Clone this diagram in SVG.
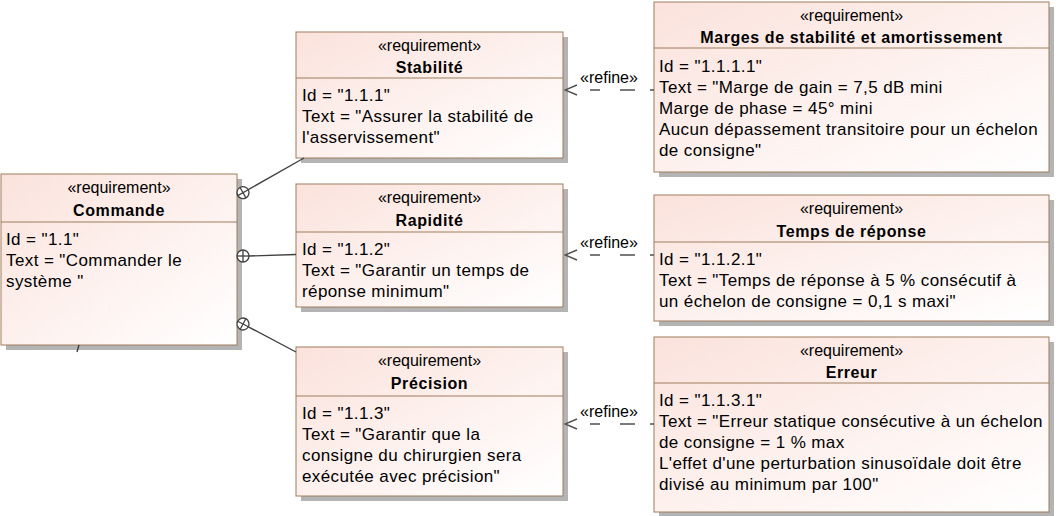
<svg xmlns="http://www.w3.org/2000/svg" width="1058" height="516" viewBox="0 0 1058 516">
<style>
text{font-family:"Liberation Sans",Arial,sans-serif;fill:#000}
.st{font-size:16px;text-anchor:middle}
.nm{font-size:16px;font-weight:bold;text-anchor:middle;letter-spacing:0.6px}
.bd{font-size:17px;letter-spacing:0.4px}
.rf{font-size:16px;text-anchor:middle}
.box{fill:url(#g);stroke:#9e7c5c;stroke-width:1}
.sh{fill:#b4b4b4}
.dv{stroke:#9e7c5c;stroke-width:1}
.ln{stroke:#404040;stroke-width:1.4;fill:none}
.dash{stroke:#505050;stroke-width:1.4;fill:none;stroke-dasharray:4 15 15 20 10 200}
.cs circle{fill:#fff;stroke:#404040;stroke-width:1.3}
.cs line{stroke:#404040;stroke-width:1.3}
</style>
<defs>
<linearGradient id="g" x1="0" y1="0" x2="1" y2="1">
<stop offset="0" stop-color="#fbe2dc"/>
<stop offset="1" stop-color="#ffffff"/>
</linearGradient>
<marker id="open" viewBox="0 0 14 12" refX="13" refY="6" markerWidth="14" markerHeight="12" markerUnits="userSpaceOnUse" orient="auto">
<path d="M1,1 L13,6 L1,11" fill="none" stroke="#505050" stroke-width="1.4"/>
</marker>
</defs>
<rect width="1058" height="516" fill="#fff"/>

<g id="commande">
<rect class="sh" x="6" y="179" width="236" height="171"/>
<rect class="box" x="1" y="174" width="236" height="171"/>
<line class="dv" x1="1" y1="222" x2="237" y2="222"/>
<text class="st" x="119" y="193">«requirement»</text>
<text class="nm" x="119" y="216">Commande</text>
<text class="bd" x="6" y="245">Id = "1.1"</text>
<text class="bd" x="6" y="266">Text = "Commander le</text>
<text class="bd" x="6" y="287">système "</text>
</g>

<g id="stabilite">
<rect class="sh" x="301" y="37" width="267" height="126"/>
<rect class="box" x="296" y="32" width="267" height="126"/>
<line class="dv" x1="296" y1="78" x2="563" y2="78"/>
<text class="st" x="429.5" y="51">«requirement»</text>
<text class="nm" x="429.5" y="73">Stabilité</text>
<text class="bd" x="302" y="101">Id = "1.1.1"</text>
<text class="bd" x="302" y="122">Text = "Assurer la stabilité de</text>
<text class="bd" x="302" y="143">l'asservissement"</text>
</g>

<g id="rapidite">
<rect class="sh" x="301" y="189" width="267" height="123"/>
<rect class="box" x="296" y="184" width="267" height="123"/>
<line class="dv" x1="296" y1="232" x2="563" y2="232"/>
<text class="st" x="429.5" y="203">«requirement»</text>
<text class="nm" x="429.5" y="226">Rapidité</text>
<text class="bd" x="302" y="255">Id = "1.1.2"</text>
<text class="bd" x="302" y="276">Text = "Garantir un temps de</text>
<text class="bd" x="302" y="297">réponse minimum"</text>
</g>

<g id="precision">
<rect class="sh" x="301" y="352" width="267" height="149"/>
<rect class="box" x="296" y="347" width="267" height="149"/>
<line class="dv" x1="296" y1="396" x2="563" y2="396"/>
<text class="st" x="429.5" y="366">«requirement»</text>
<text class="nm" x="429.5" y="389">Précision</text>
<text class="bd" x="302" y="419">Id = "1.1.3"</text>
<text class="bd" x="302" y="440">Text = "Garantir que la</text>
<text class="bd" x="302" y="461">consigne du chirurgien sera</text>
<text class="bd" x="302" y="482">exécutée avec précision"</text>
</g>

<g id="marges">
<rect class="sh" x="659" y="7" width="395" height="170"/>
<rect class="box" x="654" y="2" width="395" height="170"/>
<line class="dv" x1="654" y1="48" x2="1049" y2="48"/>
<text class="st" x="851.5" y="21">«requirement»</text>
<text class="nm" x="851.5" y="43">Marges de stabilité et amortissement</text>
<text class="bd" x="659" y="72">Id = "1.1.1.1"</text>
<text class="bd" x="659" y="93">Text = "Marge de gain = 7,5 dB mini</text>
<text class="bd" x="659" y="114">Marge de phase = 45° mini</text>
<text class="bd" x="659" y="135">Aucun dépassement transitoire pour un échelon</text>
<text class="bd" x="659" y="156">de consigne"</text>
</g>

<g id="temps">
<rect class="sh" x="659" y="200" width="395" height="126"/>
<rect class="box" x="654" y="195" width="395" height="126"/>
<line class="dv" x1="654" y1="242" x2="1049" y2="242"/>
<text class="st" x="851.5" y="214">«requirement»</text>
<text class="nm" x="851.5" y="237">Temps de réponse</text>
<text class="bd" x="659" y="265">Id = "1.1.2.1"</text>
<text class="bd" x="659" y="286">Text = "Temps de réponse à 5 % consécutif à</text>
<text class="bd" x="659" y="307">un échelon de consigne = 0,1 s maxi"</text>
</g>

<g id="erreur">
<rect class="sh" x="659" y="342" width="395" height="175"/>
<rect class="box" x="654" y="337" width="395" height="175"/>
<line class="dv" x1="654" y1="383" x2="1049" y2="383"/>
<text class="st" x="851.5" y="356">«requirement»</text>
<text class="nm" x="851.5" y="378">Erreur</text>
<text class="bd" x="659" y="406">Id = "1.1.3.1"</text>
<text class="bd" x="659" y="427">Text = "Erreur statique consécutive à un échelon</text>
<text class="bd" x="659" y="448">de consigne = 1 % max</text>
<text class="bd" x="659" y="469">L'effet d'une perturbation sinusoïdale doit être</text>
<text class="bd" x="659" y="490">divisé au minimum par 100"</text>
</g>

<g id="connectors">
<line class="ln" x1="248.2" y1="189.7" x2="304" y2="158"/>
<line class="ln" x1="249" y1="256" x2="296" y2="254.5"/>
<line class="ln" x1="248.3" y1="326.8" x2="296" y2="352"/>
<line class="ln" x1="79" y1="345" x2="77" y2="352"/>
<g class="cs" transform="translate(243,192.7) rotate(-29.6)"><circle r="6"/><line x1="-6" y1="0" x2="6" y2="0"/><line x1="0" y1="-6" x2="0" y2="6"/></g>
<g class="cs" transform="translate(243,256)"><circle r="6"/><line x1="-6" y1="0" x2="6" y2="0"/><line x1="0" y1="-6" x2="0" y2="6"/></g>
<g class="cs" transform="translate(243,324) rotate(27.8)"><circle r="6"/><line x1="-6" y1="0" x2="6" y2="0"/><line x1="0" y1="-6" x2="0" y2="6"/></g>

<path class="dash" d="M654,90 L577,90"/>
<path d="M577,90 L565,90" fill="none" stroke="none" marker-end="url(#open)"/>
<text class="rf" x="609" y="83">«refine»</text>

<path class="dash" d="M654,255 L577,255"/>
<path d="M577,255 L565,255" fill="none" stroke="none" marker-end="url(#open)"/>
<text class="rf" x="609" y="248">«refine»</text>

<path class="dash" d="M654,424 L577,424"/>
<path d="M577,424 L565,424" fill="none" stroke="none" marker-end="url(#open)"/>
<text class="rf" x="609" y="417">«refine»</text>
</g>
</svg>
